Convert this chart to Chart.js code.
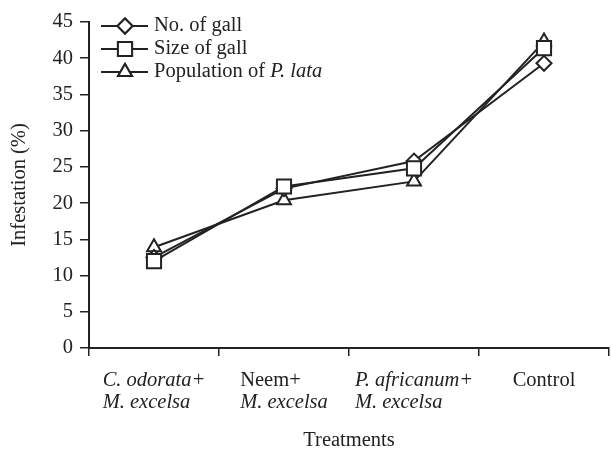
<!DOCTYPE html>
<html>
<head>
<meta charset="utf-8">
<script src="https://cdn.jsdelivr.net/npm/chart.js@4"></script>
<style>
  body { margin: 0; background: #fff; }
  canvas { display: block; }
</style>
</head>
<body>
<canvas id="myChart" width="611" height="453"></canvas>
<script>
// treatments (two lines each), italic flag per line
var categories = [["C. odorata+", "M. excelsa"], ["Neem+", "M. excelsa"], ["P. africanum+", "M. excelsa"], ["Control"]];
var italicLines = [[true, true], [false, true], [true, true], [false]];

var seriesNames = ["No. of gall", "Size of gall", "Population of P. lata"];
var galls = [12.5, 22.0, 25.8, 39.3];
var gallSize = [12.0, 22.3, 24.8, 41.4];
var population = [13.9, 20.4, 23.0, 42.3];

var yTicks = [0, 5, 10, 15, 20, 25, 30, 35, 40, 45];

var FONT = "Liberation Serif, Times New Roman, serif";
var FS = 20.5;
var INK = "#222";

function fontStr(italic, size) {
  return (italic ? "italic " : "") + size + "px " + FONT;
}

// x tick labels with mixed italic, centered as a left-aligned block
var xLabelPlugin = {
  id: "xLabels",
  afterDraw: function(chart) {
    var ctx = chart.ctx;
    var xs = chart.scales.x;
    ctx.save();
    ctx.fillStyle = INK;
    ctx.textBaseline = "middle";
    ctx.textAlign = "left";
    categories.forEach(function(lines, i) {
      var cx = xs.getPixelForTick(i);
      var maxW = 0;
      lines.forEach(function(t, j) {
        ctx.font = fontStr(italicLines[i][j], FS);
        maxW = Math.max(maxW, ctx.measureText(t).width);
      });
      lines.forEach(function(t, j) {
        ctx.font = fontStr(italicLines[i][j], FS);
        ctx.fillText(t, cx - maxW / 2, 381 + j * 22);
      });
    });
    ctx.restore();
  }
};

// legend inside the plot, line + marker + text
var legendPlugin = {
  id: "innerLegend",
  afterDraw: function(chart) {
    var ctx = chart.ctx;
    ctx.save();
    chart.data.datasets.forEach(function(ds, i) {
      var y = 26 + i * 23;
      ctx.strokeStyle = ds.borderColor;
      ctx.lineWidth = 2;
      ctx.beginPath();
      ctx.moveTo(101, y);
      ctx.lineTo(148, y);
      ctx.stroke();
      ctx.fillStyle = "#fff";
      Chart.helpers.drawPoint(ctx, {
        pointStyle: ds.pointStyle,
        radius: ds.pointRadius,
        borderWidth: 2
      }, 125, y);
      ctx.fill();
      ctx.stroke();

      ctx.fillStyle = INK;
      ctx.textBaseline = "middle";
      ctx.textAlign = "left";
      var name = ds.label;
      var k = name.indexOf("P. ");
      var x = 154;
      var parts = k >= 0 ? [[name.slice(0, k), false], [name.slice(k), true]] : [[name, false]];
      parts.forEach(function(p) {
        ctx.font = fontStr(p[1], FS);
        ctx.fillText(p[0], x, y);
        x += ctx.measureText(p[0]).width;
      });
    });
    ctx.restore();
  }
};

function series(label, data, style, r, order) {
  return {
    label: label,
    data: data,
    order: order,
    borderColor: INK,
    borderWidth: 2,
    backgroundColor: "#fff",
    pointStyle: style,
    pointRadius: r,
    pointHoverRadius: r,
    pointBorderWidth: 2,
    pointBackgroundColor: "#fff",
    pointBorderColor: INK,
    tension: 0
  };
}

new Chart("myChart", {
  type: "line",
  data: {
    labels: categories.map(function(l) { return l.join(" "); }),
    datasets: [
      series(seriesNames[0], galls, "rectRot", 7.5, 1),
      series(seriesNames[1], gallSize, "rect", 10, 0),
      series(seriesNames[2], population, "triangle", 8, 2)
    ]
  },
  options: {
    responsive: false,
    animation: false,
    layout: { autoPadding: false, padding: { top: 22, right: 2, left: 0, bottom: 0 } },
    plugins: {
      legend: { display: false },
      tooltip: { enabled: false }
    },
    scales: {
      x: {
        offset: true,
        grid: { offset: true, drawOnChartArea: false, tickLength: 8, color: INK, lineWidth: 1.5 },
        border: { color: INK, width: 2 },
        ticks: { display: false },
        title: { display: true, text: "Treatments", color: INK, font: { family: FONT, size: FS }, padding: { top: 0, bottom: 0 } },
        afterFit: function(s) { s.height = 105; }
      },
      y: {
        min: 0,
        max: 45,
        afterBuildTicks: function(s) { s.ticks = yTicks.map(function(v) { return { value: v }; }); },
        grid: { drawOnChartArea: false, tickLength: 9, color: INK, lineWidth: 1.5 },
        border: { color: INK, width: 2 },
        ticks: { color: INK, font: { family: FONT, size: FS }, padding: 7 },
        title: { display: true, text: "Infestation (%)", color: INK, font: { family: FONT, size: FS }, padding: { top: 7, bottom: 0 } },
        afterFit: function(s) { s.width = 89; }
      }
    }
  },
  plugins: [xLabelPlugin, legendPlugin]
});
</script>
</body>
</html>
